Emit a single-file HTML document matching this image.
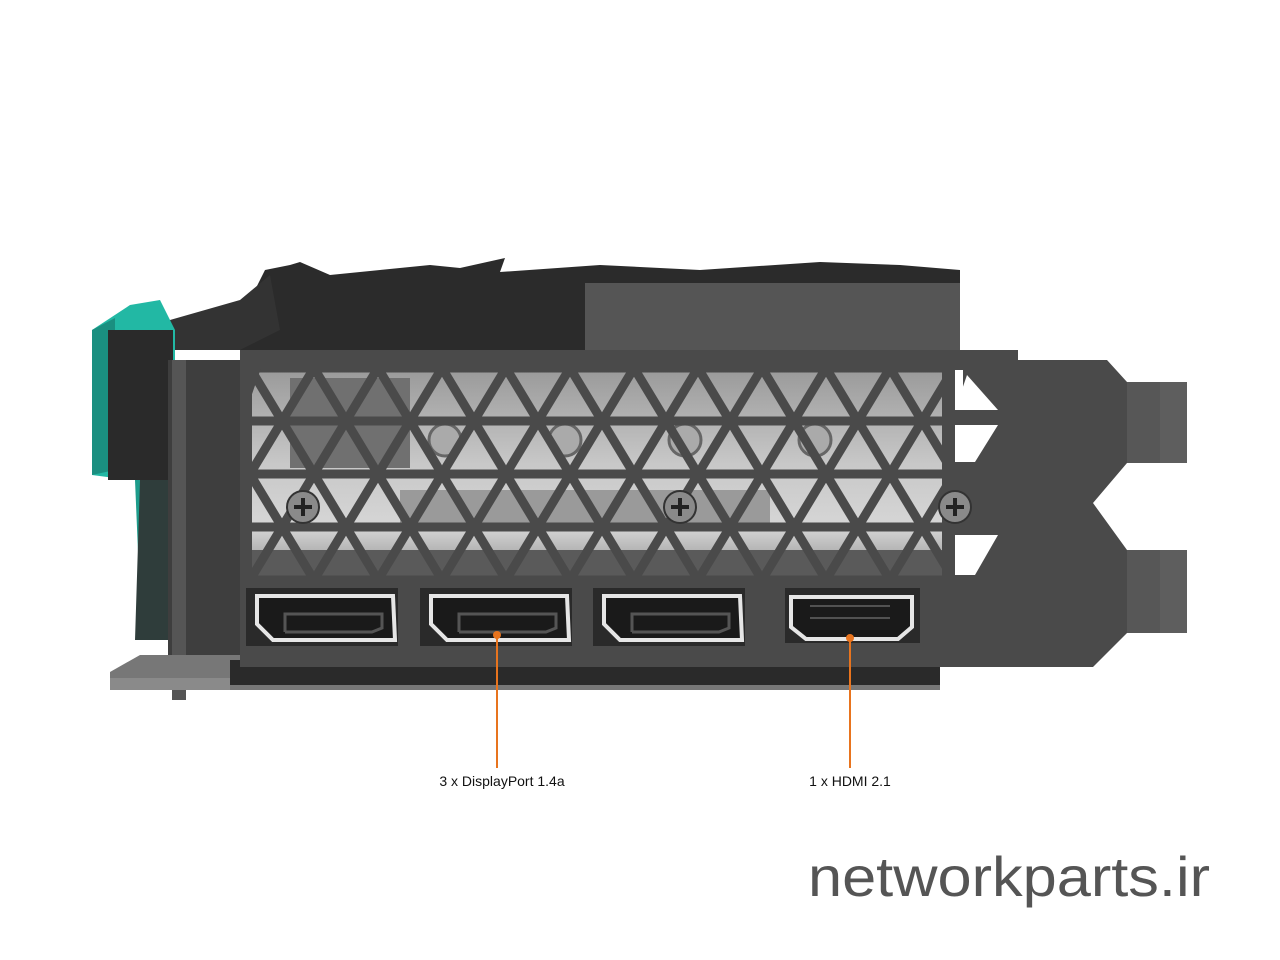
<!DOCTYPE html>
<html><head><meta charset="utf-8"><style>
html,body{margin:0;padding:0;background:#fff;width:1280px;height:960px;overflow:hidden}
svg{display:block}
</style></head><body>
<svg width="1280" height="960" viewBox="0 0 1280 960" xmlns="http://www.w3.org/2000/svg">
<defs>
<pattern id="tri" patternUnits="userSpaceOnUse" x="250" y="368" width="64" height="106">
 <g stroke="#4a4a4a" stroke-width="9">
  <line x1="-5" y1="0" x2="70" y2="0"/>
  <line x1="-5" y1="53" x2="70" y2="53"/>
  <line x1="-5" y1="106" x2="70" y2="106"/>
  <line x1="0" y1="0" x2="64" y2="106"/>
  <line x1="64" y1="0" x2="128" y2="106"/>
  <line x1="-64" y1="0" x2="0" y2="106"/>
  <line x1="64" y1="0" x2="0" y2="106"/>
  <line x1="128" y1="0" x2="64" y2="106"/>
  <line x1="0" y1="0" x2="-64" y2="106"/>
 </g>
</pattern>
<linearGradient id="vent" x1="0" y1="0" x2="0" y2="1">
 <stop offset="0" stop-color="#9a9a9a"/>
 <stop offset="0.45" stop-color="#c8c8c8"/>
 <stop offset="0.75" stop-color="#d6d6d6"/>
 <stop offset="1" stop-color="#8a8a8a"/>
</linearGradient>
</defs>

<!-- card body top -->
<polygon points="175,340 250,300 265,270 290,265 300,262 330,275 380,270 430,265 460,268 505,258 500,272 600,265 700,270 820,262 900,265 960,270 960,350 175,350" fill="#2b2b2b"/>
<rect x="585" y="283" width="375" height="68" fill="#555"/>
<polygon points="170,320 240,300 270,275 280,330 240,350 175,350" fill="#333"/>
<!-- teal part -->
<polygon points="92,330 130,305 160,300 175,330 175,480 130,480 92,475" fill="#22b8a4"/>
<polygon points="92,330 115,318 115,470 92,475" fill="#1a8f80"/>
<polygon points="135,480 175,480 175,620 150,630 140,600" fill="#1d9c8b"/>
<rect x="108" y="330" width="65" height="150" fill="#2a2a2a"/>
<polygon points="140,480 170,480 170,640 135,640" fill="#2f3d3b"/>
<!-- left side bracket edge -->
<rect x="168" y="360" width="72" height="300" fill="#3e3e3e"/>
<rect x="172" y="360" width="14" height="340" fill="#555"/>
<!-- bottom plate -->
<polygon points="110,672 140,655 940,655 940,690 110,690" fill="#777"/>
<rect x="230" y="660" width="710" height="25" fill="#2a2a2a"/>
<rect x="110" y="678" width="120" height="12" fill="#8a8a8a"/>

<!-- bracket -->
<polygon points="240,350 1018,350 1018,360 1107,360 1127,382 1187,382 1187,463 1127,463 1093,503 1127,550 1187,550 1187,633 1127,633 1093,667 240,667" fill="#4a4a4a"/>
<polygon points="1127,382 1187,382 1187,463 1127,463" fill="#575757"/>
<polygon points="1127,550 1187,550 1187,633 1127,633" fill="#575757"/>
<polygon points="1160,382 1187,382 1187,463 1160,463" fill="#5e5e5e"/>
<polygon points="1160,550 1187,550 1187,633 1160,633" fill="#5e5e5e"/>

<!-- vent region -->
<rect x="252" y="370" width="690" height="210" fill="url(#vent)"/>
<rect x="290" y="378" width="120" height="90" fill="#707070"/>
<rect x="400" y="490" width="370" height="40" fill="#9a9a9a"/>
<g fill="#aaa" stroke="#666" stroke-width="3">
 <circle cx="445" cy="440" r="16"/><circle cx="565" cy="440" r="16"/><circle cx="685" cy="440" r="16"/><circle cx="815" cy="440" r="16"/>
</g>
<rect x="252" y="550" width="690" height="30" fill="#5a5a5a"/>
<rect x="252" y="366" width="690" height="216" fill="url(#tri)"/>
<!-- left bevel edge -->
<polygon points="240,365 262,365 250,400 250,560 240,560" fill="#4a4a4a"/>
<!-- right small vents -->
<polygon points="955,370 963,370 963,410 955,410" fill="#fff"/>
<polygon points="967,375 998,410 955,410" fill="#fff"/>
<polygon points="955,425 998,425 975,462 955,462" fill="#fff"/>
<polygon points="955,535 998,535 975,575 955,575" fill="#fff"/>

<!-- screws -->
<g>
 <circle cx="303" cy="507" r="16" fill="#8a8a8a" stroke="#333" stroke-width="2"/>
 <circle cx="680" cy="507" r="16" fill="#8a8a8a" stroke="#333" stroke-width="2"/>
 <circle cx="955" cy="507" r="16" fill="#8a8a8a" stroke="#333" stroke-width="2"/>
 <g stroke="#222" stroke-width="4">
  <line x1="294" y1="507" x2="312" y2="507"/><line x1="303" y1="498" x2="303" y2="516"/>
  <line x1="671" y1="507" x2="689" y2="507"/><line x1="680" y1="498" x2="680" y2="516"/>
  <line x1="946" y1="507" x2="964" y2="507"/><line x1="955" y1="498" x2="955" y2="516"/>
 </g>
</g>

<!-- DP ports -->
<g>
 <rect x="246" y="588" width="152" height="58" fill="#2a2a2a"/>
 <rect x="420" y="588" width="152" height="58" fill="#2a2a2a"/>
 <rect x="593" y="588" width="152" height="58" fill="#2a2a2a"/>
 <g fill="#1a1a1a" stroke="#e6e6e6" stroke-width="4">
  <polygon points="257,596 393,596 395,640 273,640 257,624"/>
  <polygon points="431,596 567,596 569,640 447,640 431,624"/>
  <polygon points="604,596 740,596 742,640 620,640 604,624"/>
 </g>
 <g fill="none" stroke="#555" stroke-width="3">
  <polyline points="285,632 285,614 382,614 382,628 372,632 285,632"/>
  <polyline points="459,632 459,614 556,614 556,628 546,632 459,632"/>
  <polyline points="632,632 632,614 729,614 729,628 719,632 632,632"/>
 </g>
 <!-- HDMI -->
 <rect x="785" y="588" width="135" height="55" fill="#2a2a2a"/>
 <polygon points="791,597 912,597 912,627 898,639 806,639 791,627" fill="#1a1a1a" stroke="#e6e6e6" stroke-width="4"/>
 <g stroke="#888" stroke-width="1">
  <line x1="810" y1="606" x2="890" y2="606"/><line x1="810" y1="618" x2="890" y2="618"/>
 </g>
</g>

<!-- callouts -->
<line x1="497" y1="635" x2="497" y2="768" stroke="#e8741e" stroke-width="2"/>
<circle cx="497" cy="635" r="4" fill="#e8741e"/>
<line x1="850" y1="638" x2="850" y2="768" stroke="#e8741e" stroke-width="2"/>
<circle cx="850" cy="638" r="4" fill="#e8741e"/>
<text x="502" y="786" font-family="Liberation Sans, sans-serif" font-size="14" fill="#111" text-anchor="middle">3 x DisplayPort 1.4a</text>
<text x="850" y="786" font-family="Liberation Sans, sans-serif" font-size="14" fill="#111" text-anchor="middle">1 x HDMI 2.1</text>

<text x="808" y="896" font-family="Liberation Sans, sans-serif" font-size="56" fill="#555" textLength="402" lengthAdjust="spacingAndGlyphs">networkparts.ir</text>
</svg>
</body></html>
